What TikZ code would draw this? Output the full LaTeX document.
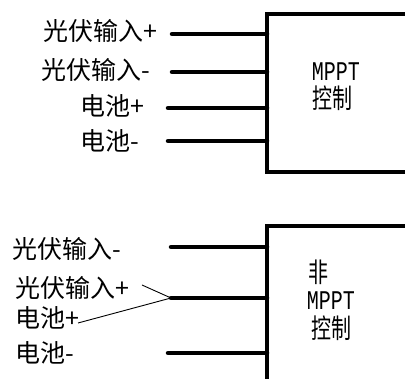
\documentclass[tikz,border=0pt]{standalone}
\usepackage{fontspec}
\setmainfont{Noto Sans CJK SC}
\newfontfamily\monofnt{Liberation Mono}
\begin{document}
\begin{tikzpicture}[x=1pt,y=-1pt]
\tikzset{
  lbl/.style={anchor=west, inner sep=0pt, font=\fontsize{25}{25}\selectfont},
  wire/.style={line width=4.5pt, line cap=round},
  fineline/.style={line width=0.9pt},
  boxline/.style={line width=3.8pt},
  ctext/.style={inner sep=0pt, font=\fontsize{20}{20}\selectfont, yscale=1.35, transform shape}
}
\useasboundingbox (0,0) rectangle (405,379);
% top block
\draw[boxline] (420,14) -- (267,14) -- (267,172) -- (420,172);
\coordinate (b1) at (267,14);
\node[lbl] (l1) at (43,31) {光伏输入+};
\node[lbl] (l2) at (41,70) {光伏输入-};
\node[lbl] (l3) at (80,106) {电池+};
\node[lbl] (l4) at (80,141) {电池-};
\coordinate (s1) at (172,34);
\coordinate (s2) at (172,72);
\coordinate (s3) at (168,108);
\coordinate (s4) at (168,141);
\foreach \i in {1,2,3,4} \draw[wire] (s\i) -- (b1 |- s\i);
\node[ctext] (m1) at (336,72) {\monofnt MPPT};
\node[ctext] (k1) at (332,98) {控制};
% bottom block
\draw[boxline] (420,226) -- (267,226) -- (267,400);
\coordinate (b2) at (267,226);
\node[lbl] (n1) at (12,249) {光伏输入-};
\node[lbl] (n2) at (15,288) {光伏输入+};
\node[lbl] (n3) at (15,318) {电池+};
\node[lbl] (n4) at (15,353) {电池-};
\coordinate (t1) at (171,247);
\coordinate (t2) at (171,298);
\coordinate (t4) at (168,353);
\foreach \i in {1,2,4} \draw[wire] (t\i) -- (b2 |- t\i);
\coordinate (a1) at (142,285);
\coordinate (a2) at (78,323);
\draw[fineline] (a1) -- (t2);
\draw[fineline] (a2) -- (t2);
\node[ctext] (f2) at (318,272) {非};
\node[ctext] (m2) at (331,301) {\monofnt MPPT};
\node[ctext] (k2) at (331,328) {控制};
\end{tikzpicture}
\end{document}
